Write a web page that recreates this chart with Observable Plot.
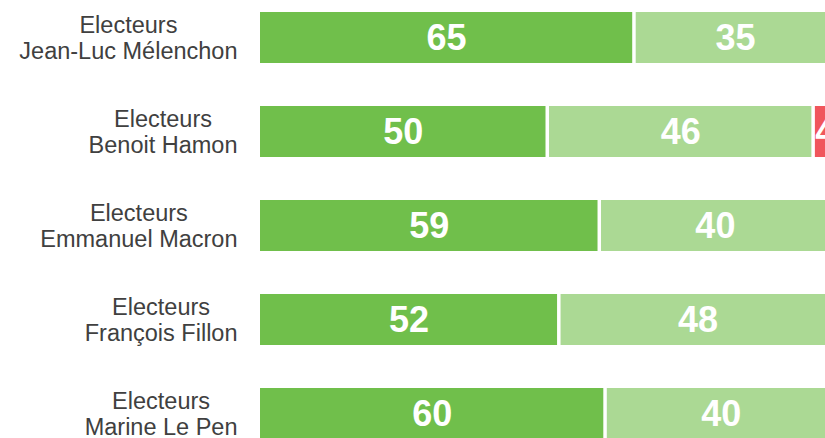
<!DOCTYPE html>
<html><head><meta charset="utf-8">
<script src="https://cdn.jsdelivr.net/npm/d3@7"></script>
<script src="https://cdn.jsdelivr.net/npm/@observablehq/plot@0.6"></script>
<style>
html,body{margin:0;padding:0;background:#fff;overflow:hidden;}
#chart svg{overflow:hidden;display:block;}
</style>
</head><body><div id="chart"></div>
<script>
// ---- data ----
const voters = ["Jean-Luc Mélenchon", "Benoit Hamon", "Emmanuel Macron", "François Fillon", "Marine Le Pen"];
const labelPrefix = "Electeurs";
const answers = ["Oui", "Non", "Sans opinion"];
const oui = [65, 50, 59, 52, 60];
const non = [35, 46, 40, 48, 40];
const sansOpinion = [0, 4, 0, 0, 0];
const colors = ["#70bf4b", "#abd994", "#f0565c"];

const series = [oui, non, sansOpinion];
const data = voters.flatMap((v, i) => answers.map((a, j) => ({voter: v, answer: a, value: series[j][i]})));

// ---- label layout (centered lines, right-aligned block) ----
const FONT = "'Liberation Sans', Arial, sans-serif";
const labelSize = 23.5;
const ctx = document.createElement("canvas").getContext("2d");
ctx.font = `${labelSize}px ${FONT}`;
const labelRight = 237;
const labelMarks = voters.map(v => {
  const w = Math.max(ctx.measureText(labelPrefix).width, ctx.measureText(v).width);
  return Plot.text([v], {
    y: d => d,
    text: d => `${labelPrefix}\n${d}`,
    frameAnchor: "left",
    dx: labelRight - w / 2,
    textAnchor: "middle",
    lineAnchor: "middle",
    lineHeight: 1.1,
    fontSize: labelSize,
    fill: "#404040"
  });
});

const chart = Plot.plot({
  width: 825,
  height: 438,
  marginLeft: 0, marginRight: 0, marginTop: 0, marginBottom: 0,
  style: {fontFamily: FONT, background: "#fff"},
  x: {domain: [0, 100], range: [256.5, 834.5], axis: null},
  y: {domain: voters, range: [10, 442], paddingInner: 0.4526, paddingOuter: 0, align: 0.5, axis: null},
  color: {domain: answers, range: colors},
  marks: [
    Plot.barX(data, Plot.stackX({x: "value", y: "voter", fill: "answer", order: answers, insetLeft: 3.5, insetRight: 0})),
    Plot.text(data.filter(d => d.value > 0), Plot.stackX({
      x: "value", y: "voter", z: "answer", order: answers,
      text: d => String(d.value),
      fill: "white", fontWeight: "bold", fontSize: 36, dx: 1.75
    })),
    ...labelMarks
  ]
});
document.getElementById("chart").append(chart);
</script>
</body></html>
